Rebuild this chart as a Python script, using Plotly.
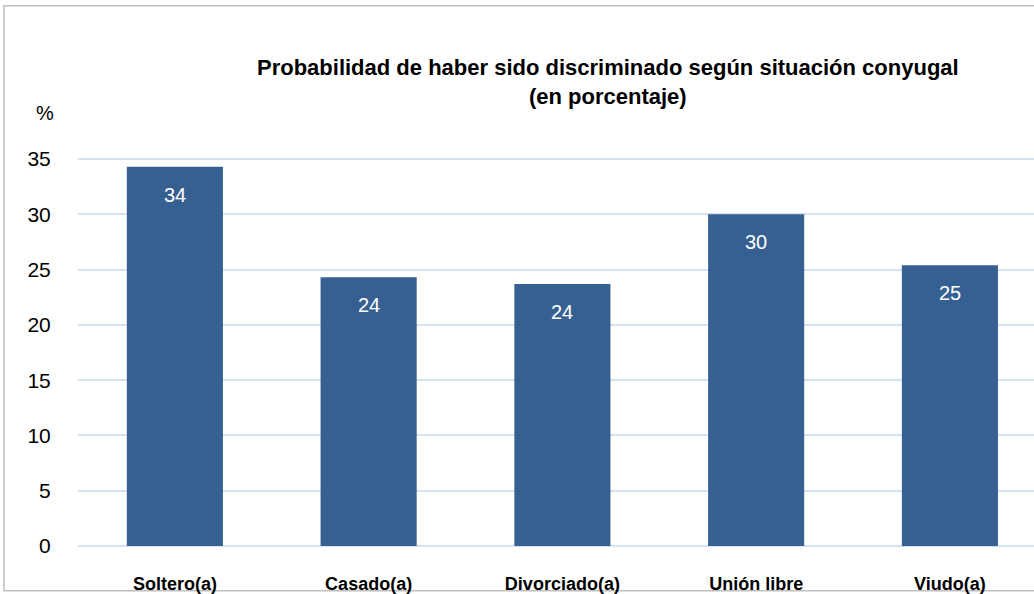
import plotly.graph_objects as go

categories = ["Soltero(a)", "Casado(a)", "Divorciado(a)", "Unión libre", "Viudo(a)"]
values = [34.3, 24.3, 23.7, 30.0, 25.4]
labels = ["34", "24", "24", "30", "25"]
y_ticks = [0, 5, 10, 15, 20, 25, 30, 35]

BAR = "#376092"
GRID = "#D6E2F2"
TXT = "#000000"
FONT = "Liberation Sans, Arial, sans-serif"

fig = go.Figure()
fig.add_trace(go.Bar(
    x=list(range(len(categories))), y=values,
    marker=dict(color=BAR, line=dict(width=0)),
    width=0.496, hoverinfo="skip", showlegend=False,
))

for i, (v, t) in enumerate(zip(values, labels)):
    fig.add_annotation(x=i, y=v, text=t, showarrow=False, xref="x", yref="y",
                       yanchor="middle", yshift=-28,
                       font=dict(family=FONT, size=20, color="white"))

fig.add_annotation(xref="paper", yref="paper", x=0.554, y=1.165,
                   text="<b>Probabilidad de haber sido discriminado según situación conyugal<br>(en porcentaje)</b>",
                   showarrow=False, xanchor="center", yanchor="middle", align="center",
                   font=dict(family="Liberation Sans Narrow, Arial Narrow, Liberation Sans, sans-serif", size=22, color=TXT))

fig.add_annotation(xref="paper", yref="paper", x=(45 - 78) / 956, y=(548 - 113) / 400,
                   text="%", showarrow=False, xanchor="center", yanchor="middle",
                   font=dict(family=FONT, size=20, color=TXT))

# chart frame
fig.add_shape(type="rect", xref="paper", yref="paper",
              x0=(4 - 78) / 956, x1=(1045 - 78) / 956,
              y0=(548 - 593) / 400, y1=(548 - 5) / 400,
              line=dict(color="#BFBFBF", width=1.5), fillcolor="rgba(0,0,0,0)", layer="below")

fig.update_layout(
    width=1034, height=594,
    margin=dict(l=78, r=0, t=148, b=46),
    paper_bgcolor="white", plot_bgcolor="white",
    bargap=0.5,
    xaxis=dict(
        range=[-0.5, 4.434],
        tickmode="array", tickvals=list(range(len(categories))),
        ticktext=["<b>%s</b>" % c for c in categories],
        tickfont=dict(family=FONT, size=18, color=TXT),
        showgrid=False, zeroline=False, showline=False,
        ticks="outside", ticklen=21, tickcolor="rgba(0,0,0,0)",
        fixedrange=True,
    ),
    yaxis=dict(
        range=[0, 36], tickmode="array", tickvals=y_ticks,
        ticktext=[str(v) for v in y_ticks],
        tickfont=dict(family=FONT, size=21, color=TXT),
        showgrid=True, gridcolor=GRID, gridwidth=1.5,
        zeroline=True, zerolinecolor=GRID, zerolinewidth=1.5,
        showline=False,
        ticks="outside", ticklen=22, tickcolor="rgba(0,0,0,0)",
        fixedrange=True,
    ),
)

fig.write_html("out.html", config={"displayModeBar": False},
               post_script="document.body.style.margin='0';document.body.style.overflow='hidden';")
